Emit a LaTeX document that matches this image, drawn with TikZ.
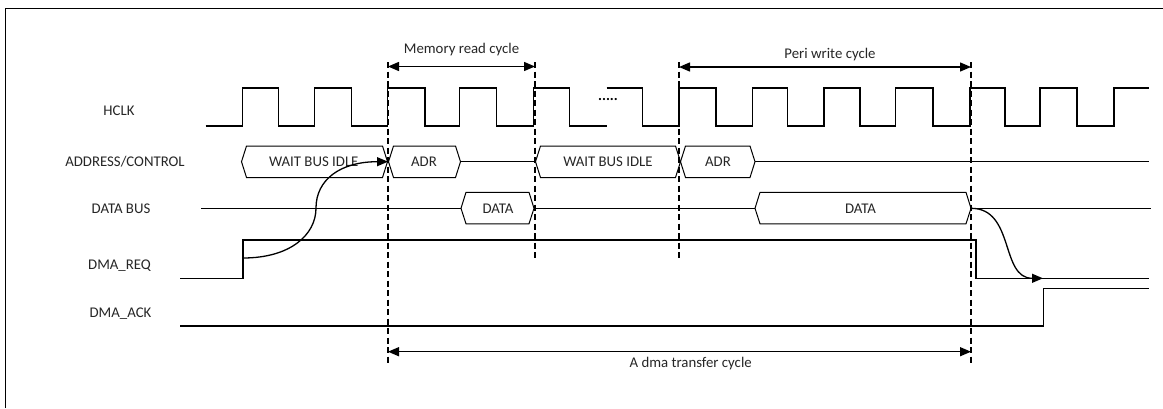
\documentclass[tikz,border=0pt]{standalone}
\usepackage{fontspec}
\setmainfont{Carlito}
\usepackage{tikz}
\usetikzlibrary{calc,arrows.meta}

\begin{document}
\begin{tikzpicture}[x=1pt,y=-1pt,
	font=\fontsize{14.8}{17}\selectfont,
	txt/.style={text=black!85},
	clk/.style={line width=1.4pt},
	bus/.style={line width=1pt},
	sig/.style={line width=1.6pt},
	guide/.style={line width=1.2pt,dash pattern=on 6pt off 3.5pt},
	cyclearrow/.style={line width=1.4pt,{Triangle[length=11pt,width=9pt]}-{Triangle[length=11pt,width=9pt]}},
	link/.style={line width=1.3pt,-{Triangle[length=11pt,width=9pt]}}]
	\useasboundingbox (0,0) rectangle (1163,408);
	\draw[line width=1.8pt] (5.5,408) -- (5.5,8.5) -- (1163,8.5);	%frame
	
	%signal names
	\node[txt] (hclk)   at (119,111)   {HCLK};
	\node[txt] (addr)   at (125,161.7) {ADDRESS/CONTROL};
	\node[txt] (dbus)   at (121,209)   {DATA BUS};
	\node[txt] (dmareq) at (119.5,266) {DMA\_REQ};
	\node[txt] (dmaack) at (120.5,313.3) {DMA\_ACK};
	
	%clock
	\draw[clk] (205.7,126) -| (242.3,88) -| (278.3,126) -| (314.3,88) -| (351.7,126)
		-| (387.7,88) -| (425,126) -| (459.3,88) -| (496.7,126) -| (533.3,88)
		-| (569.3,126) -- (606.7,126);
	\draw[clk] (606.7,88) -| (642.3,126) -| (679,88) -| (716,126) -| (752.3,88)
		-| (787.7,126) -| (824,88) -| (860,126) -| (895.6,88) -| (933,126)
		-| (970,88) -| (1005,126) -| (1040,88) -| (1077,126) -| (1114,88) -- (1149,88);
	\node[font=\fontsize{14.8}{17}\bfseries\selectfont] (dots) at (608,100) {.....};
	
	%address/control
	\draw[bus] (241.5,161.7) -- (246.5,146) -- (382.5,146) -- (387.5,161.7) -- (382.5,177.5) -- (246.5,177.5) -- cycle;	%wait 1
	\draw[bus] (388.5,161.7) -- (393.5,146) -- (455.5,146) -- (460.5,161.7) -- (455.5,177.5) -- (393.5,177.5) -- cycle;	%adr 1
	\draw[bus] (460.5,161.7) -- (535.5,161.7);
	\draw[bus] (535.5,161.7) -- (540.5,146) -- (675.5,146) -- (680.5,161.7) -- (675.5,177.5) -- (540.5,177.5) -- cycle;	%wait 2
	\draw[bus] (680.5,161.7) -- (685.5,146) -- (750,146) -- (755,161.7) -- (750,177.5) -- (685.5,177.5) -- cycle;	%adr 2
	\draw[bus] (755,161.7) -- (1149,161.7);
	\node[txt] (wait1) at (313.8,161.7) {WAIT BUS IDLE};
	\node[txt] (adr1)  at (424,161.7)   {ADR};
	\node[txt] (wait2) at (608,161.7)   {WAIT BUS IDLE};
	\node[txt] (adr2)  at (718,161.7)   {ADR};
	
	%data bus
	\draw[bus] (201,208.3) -- (461,208.3);
	\draw[bus] (461,208.3) -- (466,192.3) -- (529,192.3) -- (534,208.3) -- (529,223.8) -- (466,223.8) -- cycle;	%data 1
	\draw[bus] (534,208.3) -- (755,208.3);
	\draw[bus] (755,208.3) -- (760,192.3) -- (966,192.3) -- (971,208.3) -- (966,223.8) -- (760,223.8) -- cycle;	%data 2
	\draw[bus] (971,208.3) -- (1151,208.3);
	\node[txt] (data1) at (498,208.3) {DATA};
	\node[txt] (data2) at (860.5,208.3) {DATA};
	
	%dma lines
	\draw[sig] (180.3,278.3) -| (243,240) -| (976,278.3) -- (1149,278.3);	%req
	\draw[sig] (180.3,325.8) -| (1043.3,288.5) -- (1149,288.5);	%ack
	
	%dashed guides
	\draw[guide] (388,62) -- (388,363);
	\draw[guide] (535,62) -- (535,260);
	\draw[guide] (679,62) -- (679,260);
	\draw[guide] (971,62) -- (971,363);
	
	%cycles
	\draw[cyclearrow] (388,66.5) -- (535,66.5);
	\draw[cyclearrow] (679,67) -- (971,67);
	\draw[cyclearrow] (388,351.7) -- (971,351.7);
	\node[txt] (memrd) at (461.5,50) {Memory read cycle};
	\node[txt] (periwr) at (830,54.3) {Peri write cycle};
	\node[txt] (dmacyc) at (690.7,364) {A dma transfer cycle};
	
	%request / release
	\coordinate (reqrise) at (243,258);
	\coordinate (adrstart) at (388,161.7);
	\coordinate (dataend) at (971,208.3);
	\coordinate (reqlow) at (1043,278.3);
	\draw[link] (reqrise) .. controls (290,258) and (316,235) .. (316,208)
		.. controls (316,180) and (340,161.7) .. (adrstart);
	\draw[link] (dataend) .. controls (1015,208.3) and (1000,278.3) .. (reqlow);
\end{tikzpicture}
\end{document}
